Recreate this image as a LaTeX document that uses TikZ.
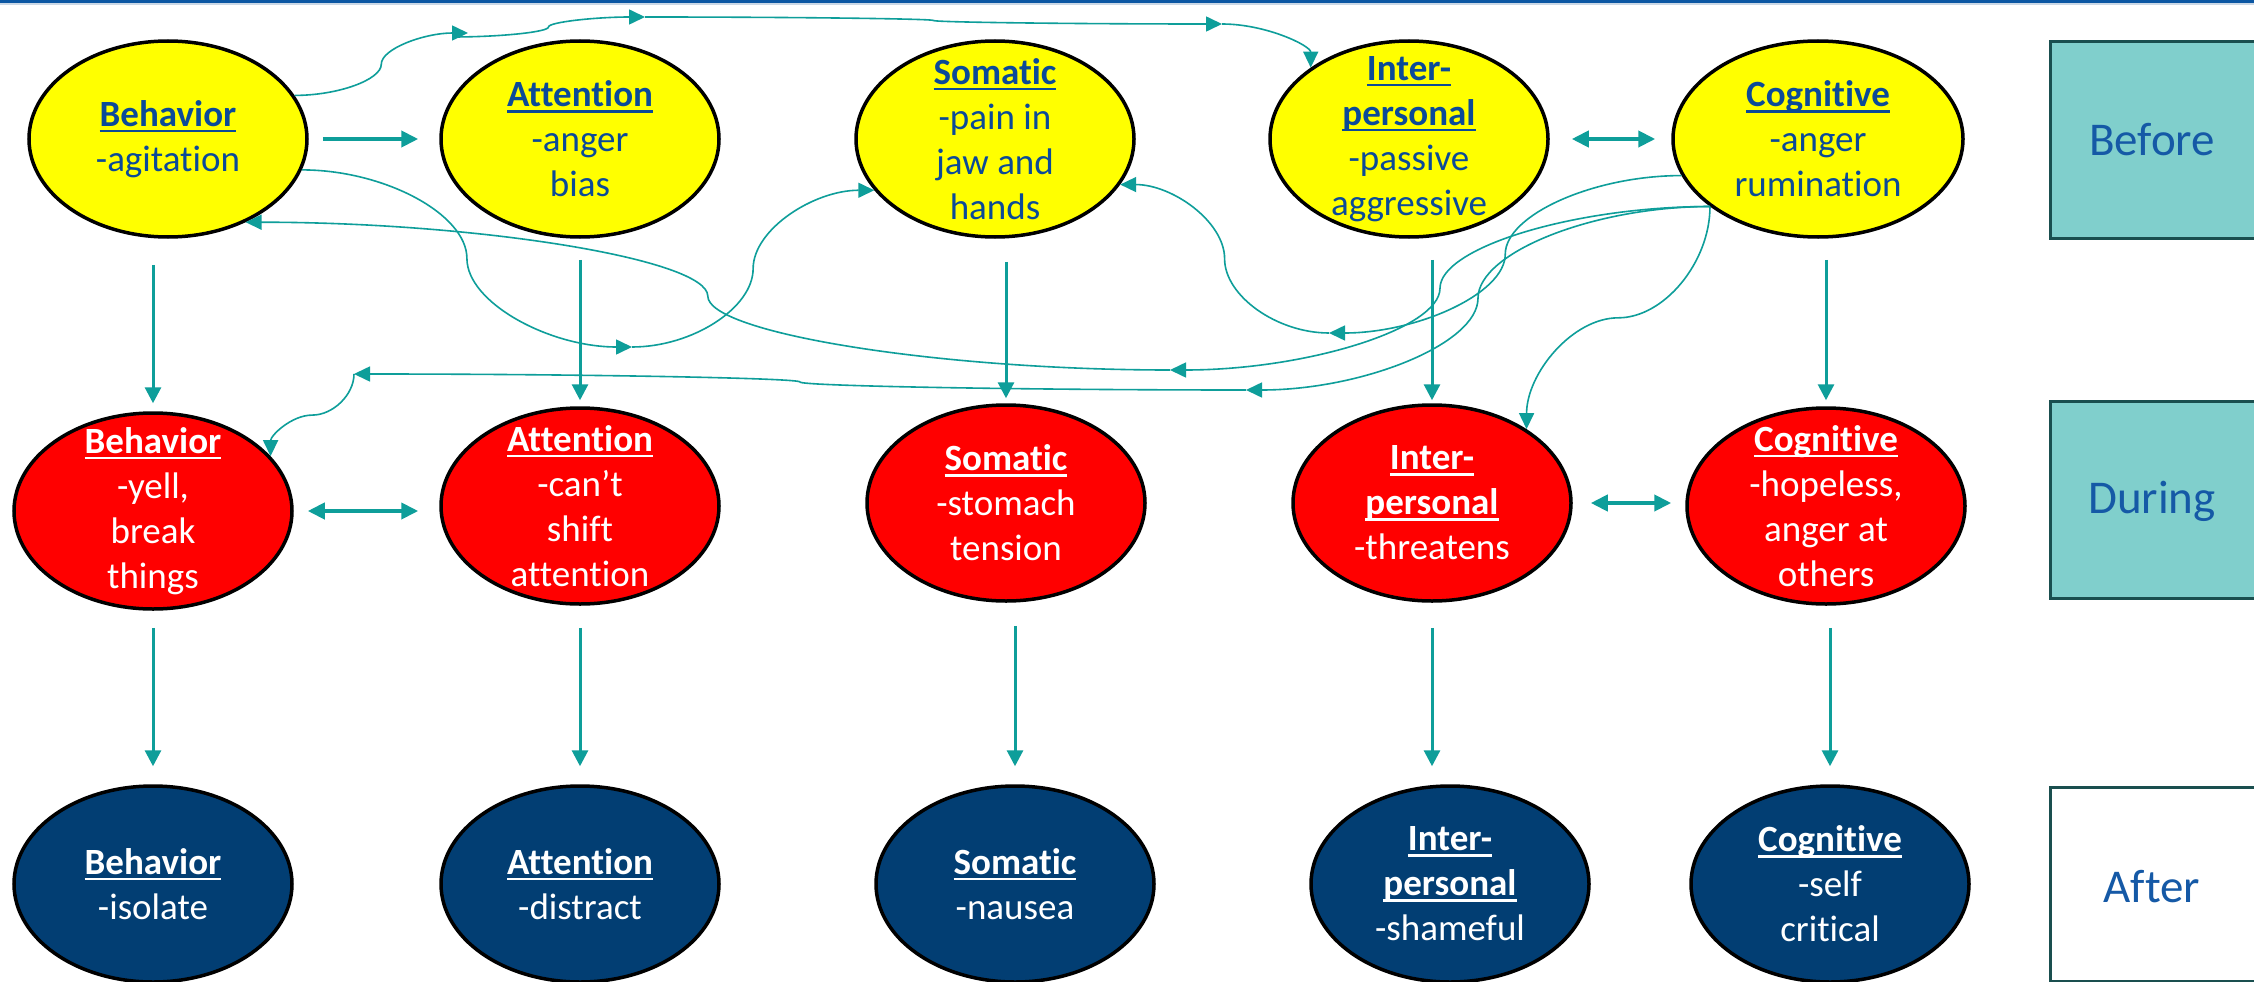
\documentclass[tikz,border=0pt]{standalone}
\usepackage{fontspec}
\setmainfont{Carlito}[Ligatures=NoCommon]
\usetikzlibrary{arrows.meta,calc,shapes.geometric}

\definecolor{linkteal}{HTML}{0E9E9A}
\definecolor{ellyellow}{HTML}{FFFF00}
\definecolor{ellred}{HTML}{FF0000}
\definecolor{ellnavy}{HTML}{023E73}
\definecolor{ytext}{HTML}{0B4A98}
\definecolor{phasefill}{HTML}{80CFCC}
\definecolor{phaseedge}{HTML}{1A4F4F}
\definecolor{phasetext}{HTML}{1559A6}
\definecolor{topband}{HTML}{0B57A3}
\definecolor{topline}{HTML}{CBD8E6}

% underlined bold heading inside a bubble
\newcommand\ulword[1]{\setbox0=\hbox{#1}\rlap{\rule[-6pt]{\wd0}{2.8pt}}\box0}
\newcommand\ttl[1]{{\bfseries\ulword{#1}}}

\tikzset{
  bubble/.style={ellipse, draw=black, line width=3.5pt, minimum width=278pt,
    minimum height=196pt, inner sep=0pt},
  yel/.style={bubble, fill=ellyellow},
  redb/.style={bubble, fill=ellred},
  navyb/.style={bubble, fill=ellnavy},
  txt/.style={align=center, inner sep=0pt, font=\fontsize{37}{45}\selectfont},
  ytxt/.style={txt, text=ytext},
  wtxt/.style={txt, text=white},
  link/.style={draw=linkteal, line width=1.6pt, -{Triangle[length=16pt,width=15pt]}},
  vlink/.style={draw=linkteal, line width=3pt, -{Triangle[length=16pt,width=16pt]}},
  hlink/.style={draw=linkteal, line width=4pt, -{Triangle[length=17pt,width=16pt]}},
  dlink/.style={draw=linkteal, line width=4pt,
    {Triangle[length=17pt,width=16pt]}-{Triangle[length=17pt,width=16pt]}},
  phasebox/.style={rectangle, draw=phaseedge, line width=3pt, anchor=north west,
    inner sep=0pt, minimum width=215pt},
  phasetxt/.style={text=phasetext, inner sep=0pt, font=\fontsize{47}{56}\selectfont},
  % curved connector: horizontal start, vertical middle, horizontal end
  hvh/.style={to path={let \p1=(\tikztostart), \p2=(\tikztotarget) in
    .. controls ({\x1+0.25*(\x2-\x1)},\y1) and ({0.5*(\x1+\x2)},{\y1+0.25*(\y2-\y1)})
    .. ({0.5*(\x1+\x2)},{0.5*(\y1+\y2)})
    .. controls ({0.5*(\x1+\x2)},{\y1+0.75*(\y2-\y1)}) and ({\x1+0.75*(\x2-\x1)},\y2)
    .. (\tikztotarget)}},
  % curved connector: vertical start, horizontal middle, vertical end
  vhv/.style={to path={let \p1=(\tikztostart), \p2=(\tikztotarget) in
    .. controls (\x1,{\y1+0.25*(\y2-\y1)}) and ({\x1+0.25*(\x2-\x1)},{0.5*(\y1+\y2)})
    .. ({0.5*(\x1+\x2)},{0.5*(\y1+\y2)})
    .. controls ({\x1+0.75*(\x2-\x1)},{0.5*(\y1+\y2)}) and (\x2,{\y1+0.75*(\y2-\y1)})
    .. (\tikztotarget)}},
  % curved connector with one bend: horizontal start, vertical end
  hv/.style={to path={let \p1=(\tikztostart), \p2=(\tikztotarget) in
    .. controls ({0.5*(\x1+\x2)},\y1) and (\x2,{0.5*(\y1+\y2)}) .. (\tikztotarget)}},
}

\begin{document}
\begin{tikzpicture}[x=1pt,y=-1pt]
\useasboundingbox (0,0) rectangle (2254,982);
\clip (0,0) rectangle (2254,982);
\fill[white] (0,0) rectangle (2254,982);
\fill[topband] (0,0) rectangle (2254,3);
\fill[topline] (0,3) rectangle (2254,5);

% phase boxes
\node[phasebox, fill=phasefill, minimum height=197pt] (before) at (2049,40) {};
\node[phasebox, fill=phasefill, minimum height=197pt] (during) at (2049,400) {};
\node[phasebox, fill=white, minimum height=194pt] (after) at (2049,786) {};
\node[phasetxt] (beforeT) at (2152,140) {Before};
\node[phasetxt] (duringT) at (2152,501) {During};
\node[phasetxt] (afterT) at (2152,887) {After};

% before row
\node[yel] (bY) at (168,139) {};
\node[yel] (aY) at (580,139) {};
\node[yel] (sY) at (995,139) {};
\node[yel] (iY) at (1409,139) {};
\node[yel, minimum width=290pt] (cY) at (1818,139) {};
\node[ytxt] (bYt) at (bY) {\ttl{Behavior}\\-agitation};
\node[ytxt] (aYt) at (aY) {\ttl{Attention}\\-anger\\bias};
\node[ytxt] (sYt) at (sY) {\ttl{Somatic}\\-pain in\\jaw and\\hands};
\node[ytxt] (iYt) at (iY) {\ttl{Inter-}\\\ttl{personal}\\-passive\\aggressive};
\node[ytxt] (cYt) at (cY) {\ttl{Cognitive}\\-anger\\rumination};

% during row
\node[redb] (bR) at (153,511) {};
\node[redb] (aR) at (580,506) {};
\node[redb] (sR) at (1006,503) {};
\node[redb] (iR) at (1432,503) {};
\node[redb] (cR) at (1826,506) {};
\node[wtxt] (bRt) at (bR) {\ttl{Behavior}\\-yell,\\break\\things};
\node[wtxt] (aRt) at (aR) {\ttl{Attention}\\-can’t\\shift\\attention};
\node[wtxt] (sRt) at (sR) {\ttl{Somatic}\\-stomach\\tension};
\node[wtxt] (iRt) at (iR) {\ttl{Inter-}\\\ttl{personal}\\-threatens};
\node[wtxt] (cRt) at (cR) {\ttl{Cognitive}\\-hopeless,\\anger at\\others};

% after row
\node[navyb] (bB) at (153,884) {};
\node[navyb] (aB) at (580,884) {};
\node[navyb] (sB) at (1015,884) {};
\node[navyb] (iB) at (1450,884) {};
\node[navyb] (cB) at (1830,884) {};
\node[wtxt] (bBt) at (bB) {\ttl{Behavior}\\-isolate};
\node[wtxt] (aBt) at (aB) {\ttl{Attention}\\-distract};
\node[wtxt] (sBt) at (sB) {\ttl{Somatic}\\-nausea};
\node[wtxt] (iBt) at (iB) {\ttl{Inter-}\\\ttl{personal}\\-shameful};
\node[wtxt] (cBt) at (cB) {\ttl{Cognitive}\\-self\\critical};

% straight links between neighbours
\draw[hlink, shorten <=14pt, shorten >=21pt] (bY.east) -- (aY.west);
\draw[dlink, shorten <=22pt, shorten >=16pt] (iY.east) -- (cY.west);
\draw[dlink, shorten <=14pt, shorten >=21pt] (bR.east) -- (bR.east -| aR.west);
\draw[dlink, shorten <=18pt, shorten >=14pt] (iR.east) -- (iR.east -| cR.west);

% before -> during
\draw[vlink, shorten <=26pt, shorten >=8pt] (bY.south -| bR.north) -- (bR.north);
\draw[vlink, shorten <=21pt, shorten >=6pt] (aY.south) -- (aR.north);
\draw[vlink, shorten <=23pt, shorten >=5pt] (sY.south -| sR.north) -- (sR.north);
\draw[vlink, shorten <=21pt, shorten >=3pt] (iY.south -| iR.north) -- (iR.north);
\draw[vlink, shorten <=21pt, shorten >=6pt] (cY.south -| cR.north) -- (cR.north);

% during -> after
\draw[vlink, shorten <=17pt, shorten >=18pt] (bR.south) -- (bR.south |- bB.north);
\draw[vlink, shorten <=22pt, shorten >=18pt] (aR.south) -- (aB.north);
\draw[vlink, shorten <=23pt, shorten >=18pt] (sR.south -| sB.north) -- (sB.north);
\draw[vlink, shorten <=25pt, shorten >=18pt] (iR.south) -- (iR.south |- iB.north);
\draw[vlink, shorten <=22pt, shorten >=18pt] (cR.south -| cB.north) -- (cB.north);

% junction points of the chained curved links
\coordinate (j1) at (468,33);
\coordinate (j1s) at (452,37);
\coordinate (j2) at (645,17);
\coordinate (j3) at (1222,24);
\coordinate (j4) at (632,347);
\coordinate (j5) at (1329,333);
\coordinate (j6) at (1170,370);
\coordinate (j7) at (1246,390);
\coordinate (j8) at (354,374);

% behavior -> interpersonal over the top
\draw[link] (bY.19) to[hvh] (j1);
\draw[link] (j1s) to[hvh] (j2);
\draw[link] (j2) to[hvh] (j3);
\draw[link] (j3) to[hv] (iY.144);

% behavior -> somatic
\draw[link] (bY.-13) to[hvh] (j4);
\draw[link] (j4) to[hvh] (sY.203);

% cognitive -> somatic
\draw[link] (cY.195) to[hvh] (j5);
\draw[link] (j5) to[hvh] (sY.-20);

% cognitive -> behavior
\draw[link] (cY.212) to[hvh] (j6);
\draw[link] (j6) to[hvh] (bY.-47);

% cognitive -> behavior (during)
\draw[link] (cY.212) to[hvh] (j7);
\draw[link] (j7) to[hvh] (j8);
\draw[link] (j8) to[vhv] (bR.25);

% cognitive -> interpersonal (during)
\draw[link] (cY.212) to[vhv] (iR.38);
\end{tikzpicture}
\end{document}
